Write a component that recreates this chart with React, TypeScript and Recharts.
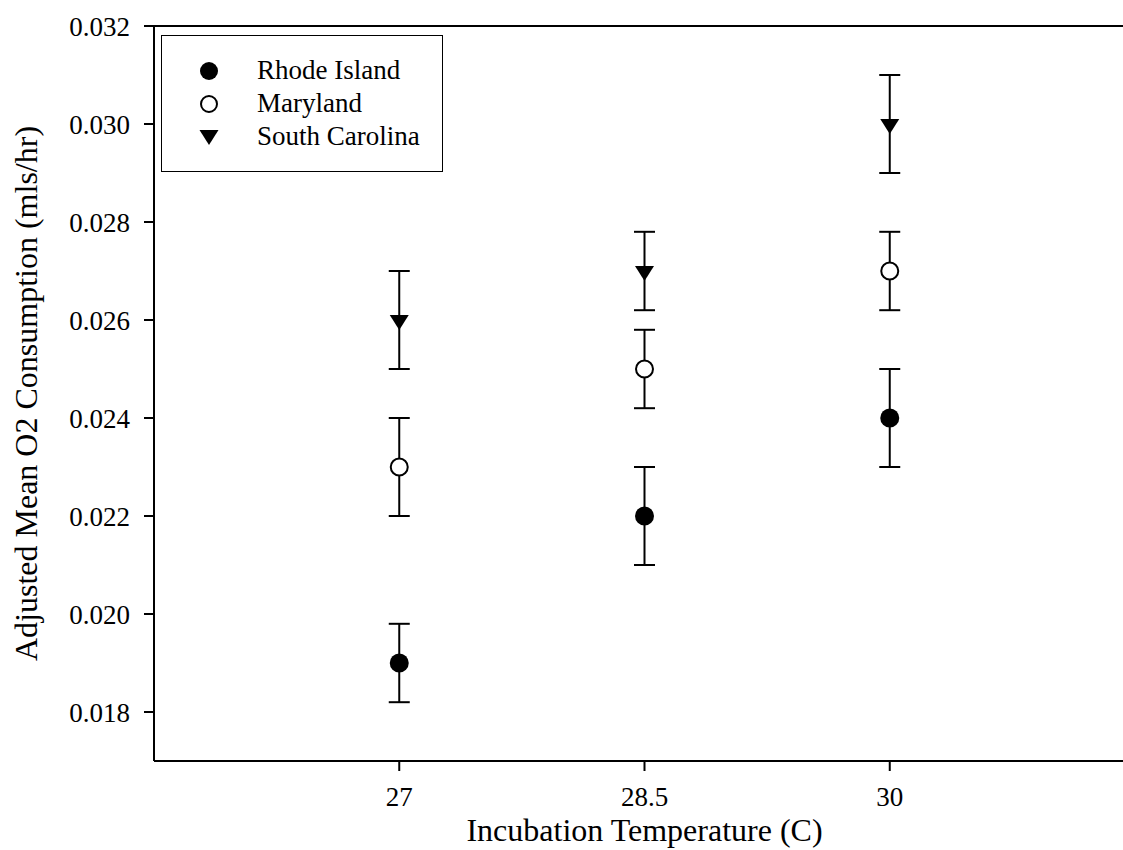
import React from "react";
import {
    ComposedChart,
    Scatter,
    ErrorBar,
    XAxis,
    YAxis,
    ReferenceLine,
    Legend
} from "recharts";

// incubation temperatures (C)
const temperatures = [27, 28.5, 30];

// adjusted mean O2 consumption (mls/hr) and error half-widths
const rhodeIsland = [0.019, 0.022, 0.024];
const rhodeIslandErr = [0.0008, 0.001, 0.001];
const maryland = [0.023, 0.025, 0.027];
const marylandErr = [0.001, 0.0008, 0.0008];
const southCarolina = [0.026, 0.027, 0.03];
const southCarolinaErr = [0.001, 0.0008, 0.001];

const xTicks = [27, 28.5, 30];
const yTicks = [0.018, 0.02, 0.022, 0.024, 0.026, 0.028, 0.03, 0.032];
const seriesNames = ["Rhode Island", "Maryland", "South Carolina"];

const FONT = '"Liberation Serif", "Times New Roman", serif';

const toPoints = (vals: number[], errs: number[]) =>
    temperatures.map((t, i) => ({ x: t, y: vals[i], err: errs[i] }));

const FilledCircle = (props: any) => (
    <circle cx={props.cx} cy={props.cy} r={9.5} fill="#000" />
);

const OpenCircle = (props: any) => (
    <circle cx={props.cx} cy={props.cy} r={8.5} fill="#fff" stroke="#000" strokeWidth={2} />
);

const DownTriangle = (props: any) => {
    const { cx, cy } = props;
    return (
        <polygon
            points={`${cx - 9.5},${cy - 5} ${cx + 9.5},${cy - 5} ${cx},${cy + 10}`}
            fill="#000"
        />
    );
};

const LegendMarker = ({ idx }: { idx: number }) => (
    <svg width={22} height={22} style={{ display: "block" }}>
        {idx === 0 && <circle cx={11} cy={11} r={9} fill="#000" />}
        {idx === 1 && <circle cx={11} cy={11} r={8} fill="#fff" stroke="#000" strokeWidth={2} />}
        {idx === 2 && <polygon points="1.5,4 20.5,4 11,19" fill="#000" />}
    </svg>
);

const LegendBox = () => (
    <div
        style={{
            width: 282,
            height: 137,
            border: "1.5px solid #000",
            background: "#fff",
            boxSizing: "border-box",
            paddingTop: 18
        }}
    >
        {seriesNames.map((name, i) => (
            <div
                key={name}
                style={{ display: "flex", alignItems: "center", height: 33 }}
            >
                <div style={{ width: 36 }} />
                <LegendMarker idx={i} />
                <div style={{ width: 37 }} />
                <span style={{ fontFamily: FONT, fontSize: 27, color: "#000", lineHeight: "33px" }}>
                    {name}
                </span>
            </div>
        ))}
    </div>
);

const XTitle = (props: any) => {
    const { viewBox } = props;
    return (
        <text
            x={viewBox.x + viewBox.width / 2}
            y={viewBox.y + 80}
            textAnchor="middle"
            fontFamily={FONT}
            fontSize={32}
            fill="#000"
        >
            Incubation Temperature (C)
        </text>
    );
};

const YTitle = (props: any) => {
    const { viewBox } = props;
    const cy = viewBox.y + viewBox.height / 2;
    return (
        <text
            x={37}
            y={cy}
            transform={`rotate(-90, 37, ${cy})`}
            textAnchor="middle"
            fontFamily={FONT}
            fontSize={32}
            fill="#000"
        >
            Adjusted Mean O2 Consumption (mls/hr)
        </text>
    );
};

export default function App() {
    return (
        <div
            style={{
                position: "absolute",
                left: 0,
                top: 0,
                width: 1123,
                height: 850,
                overflow: "hidden",
                background: "#fff"
            }}
        >
            <ComposedChart
                width={1135}
                height={850}
                margin={{ top: 26, right: 0, bottom: 0, left: 0 }}
            >
                <XAxis
                    type="number"
                    dataKey="x"
                    domain={[25.5, 31.5]}
                    ticks={xTicks}
                    height={89}
                    axisLine={{ stroke: "#000", strokeWidth: 2 }}
                    tickLine={{ stroke: "#000", strokeWidth: 2 }}
                    tickSize={10}
                    tickMargin={16}
                    tick={{ fontFamily: FONT, fontSize: 27, fill: "#000" }}
                    label={<XTitle />}
                />
                <YAxis
                    type="number"
                    dataKey="y"
                    domain={[0.017, 0.032]}
                    ticks={yTicks}
                    width={154}
                    axisLine={{ stroke: "#000", strokeWidth: 2 }}
                    tickLine={{ stroke: "#000", strokeWidth: 2 }}
                    tickSize={10}
                    tickMargin={14}
                    tickFormatter={(v: number) => v.toFixed(3)}
                    tick={{ fontFamily: FONT, fontSize: 27, fill: "#000" }}
                    label={<YTitle />}
                />
                <ReferenceLine y={0.032} stroke="#000" strokeWidth={2} />
                <Legend
                    layout="horizontal"
                    verticalAlign="middle"
                    align="center"
                    wrapperStyle={{ top: 35, left: 161, width: 282 }}
                    content={<LegendBox />}
                />
                <Scatter
                    name={seriesNames[0]}
                    data={toPoints(rhodeIsland, rhodeIslandErr)}
                    shape={<FilledCircle />}
                    isAnimationActive={false}
                >
                    <ErrorBar dataKey="err" direction="y" width={10.5} stroke="#000" strokeWidth={2} isAnimationActive={false} />
                </Scatter>
                <Scatter
                    name={seriesNames[1]}
                    data={toPoints(maryland, marylandErr)}
                    shape={<OpenCircle />}
                    isAnimationActive={false}
                >
                    <ErrorBar dataKey="err" direction="y" width={10.5} stroke="#000" strokeWidth={2} isAnimationActive={false} />
                </Scatter>
                <Scatter
                    name={seriesNames[2]}
                    data={toPoints(southCarolina, southCarolinaErr)}
                    shape={<DownTriangle />}
                    isAnimationActive={false}
                >
                    <ErrorBar dataKey="err" direction="y" width={10.5} stroke="#000" strokeWidth={2} isAnimationActive={false} />
                </Scatter>
            </ComposedChart>
        </div>
    );
}
